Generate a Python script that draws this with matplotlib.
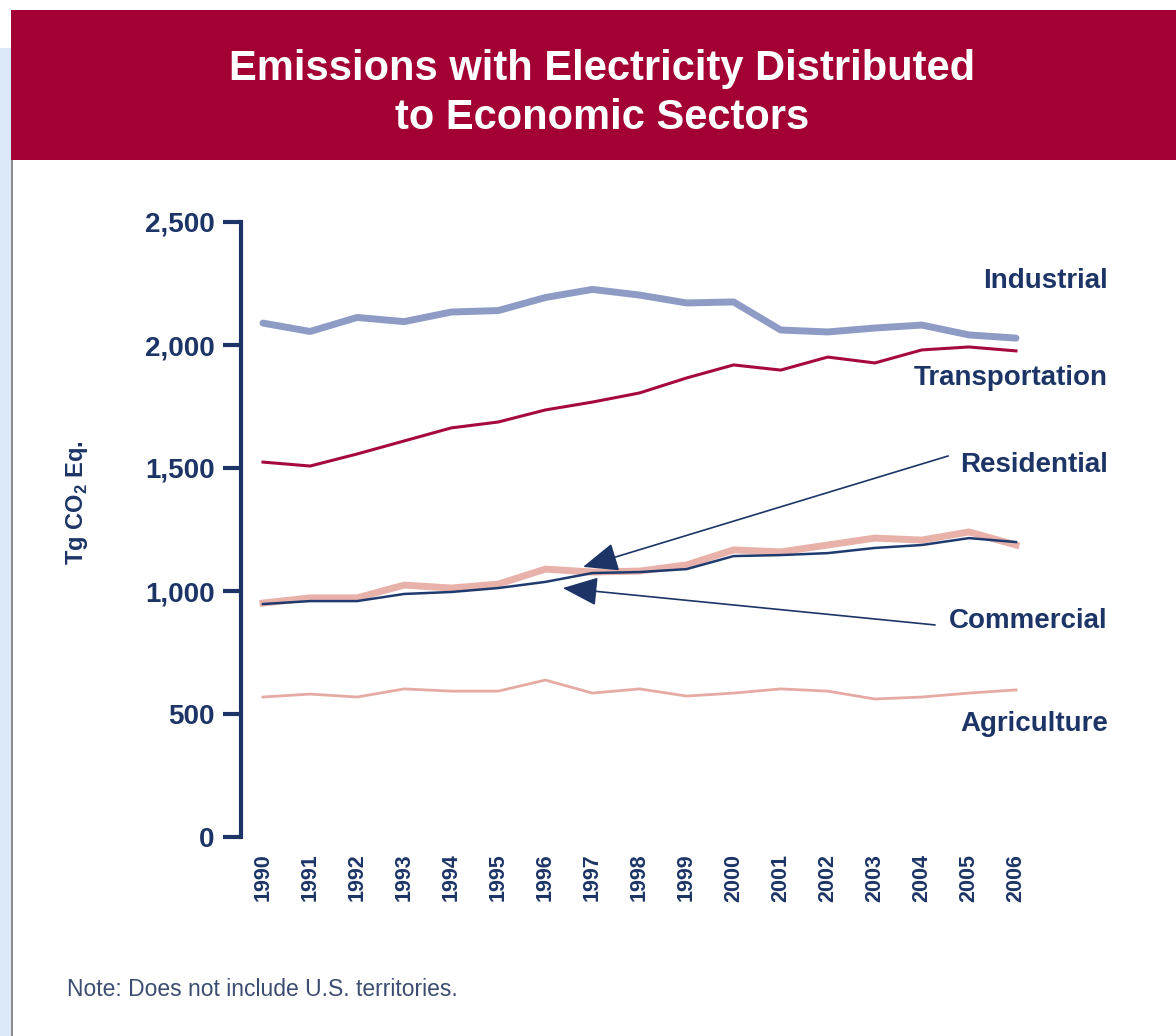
import matplotlib
matplotlib.use('Agg')
import matplotlib.pyplot as plt
from matplotlib.patches import Rectangle

years = list(range(1990, 2007))
industrial = [2089, 2055, 2112, 2095, 2134, 2140, 2193, 2226, 2203, 2171, 2175, 2061, 2053, 2069, 2081, 2041, 2028]
transportation = [1524, 1508, 1557, 1610, 1663, 1687, 1736, 1768, 1805, 1866, 1919, 1898, 1951, 1927, 1980, 1992, 1976]
residential = [951, 972, 972, 1024, 1012, 1028, 1089, 1077, 1081, 1106, 1167, 1159, 1187, 1215, 1207, 1240, 1187]
commercial = [947, 959, 959, 988, 996, 1012, 1037, 1073, 1077, 1089, 1142, 1146, 1154, 1175, 1187, 1215, 1199]
agriculture = [569, 581, 569, 602, 593, 593, 638, 585, 602, 573, 585, 602, 593, 561, 569, 585, 598]
yticks = [0, 500, 1000, 1500, 2000, 2500]
ytick_labels = ['0', '500', '1,000', '1,500', '2,000', '2,500']

navy = '#1c3566'
red = '#a30034'
W, H = 1176, 1036

plt.rcParams['font.family'] = ['Liberation Sans', 'DejaVu Sans']
plt.rcParams['mathtext.fontset'] = 'custom'
plt.rcParams['mathtext.rm'] = 'Liberation Sans:bold'

fig = plt.figure(figsize=(W / 100, H / 100), dpi=100)

def fx(px):
    return px / W

def fy(py):
    return 1 - py / H

# page decorations
fig.patches.append(Rectangle((0, 0), fx(11), fy(48), transform=fig.transFigure,
                             facecolor='#dae8f8', edgecolor='none', zorder=0))
fig.patches.append(Rectangle((fx(11), 0), fx(2), fy(160), transform=fig.transFigure,
                             facecolor='#8c8c8c', edgecolor='none', zorder=0))
fig.patches.append(Rectangle((fx(11), fy(160)), 1 - fx(11), fy(10) - fy(160),
                             transform=fig.transFigure, facecolor=red, edgecolor='none', zorder=0))
fig.text(fx(602), fy(80), 'Emissions with Electricity Distributed', color='white',
         fontsize=30, fontweight='bold', ha='center', va='baseline')
fig.text(fx(602), fy(129), 'to Economic Sectors', color='white',
         fontsize=30, fontweight='bold', ha='center', va='baseline')

ax_left, ax_right, ax_top, ax_bot = 241, 1130, 222, 837
ax = fig.add_axes([fx(ax_left), fy(ax_bot), fx(ax_right - ax_left), fy(ax_top) - fy(ax_bot)])
step = (1016 - 263) / 16
ax.set_xlim(1990 - (263 - ax_left) / step, 1990 + (ax_right - 263) / step)
ax.set_ylim(0, 2500)

ax.plot(years, industrial, color='#8e9bc5', lw=5, solid_capstyle='round', zorder=3)
ax.plot(years, transportation, color='#a6093d', lw=2.2, zorder=3)
ax.plot(years, residential, color='#e8b1a9', lw=5, zorder=2)
ax.plot(years, commercial, color='#1e3a6e', lw=1.8, zorder=4)
ax.plot(years, agriculture, color='#e6aaa5', lw=2, zorder=3)

for s in ['top', 'right', 'bottom']:
    ax.spines[s].set_visible(False)
ax.spines['left'].set_color(navy)
ax.spines['left'].set_linewidth(3)
ax.spines['left'].set_bounds(0, 2500)

ax.set_yticks(yticks)
ax.set_yticklabels(ytick_labels)
ax.tick_params(axis='y', length=13, width=3, color=navy, pad=6,
               labelsize=20, labelcolor=navy)
for t in ax.get_yticklabels():
    t.set_fontweight('bold')
ax.set_xticks(years)
ax.set_xticklabels([str(y) for y in years], rotation=90)
ax.tick_params(axis='x', length=0, pad=12, labelsize=15.5, labelcolor=navy)
for t in ax.get_xticklabels():
    t.set_fontweight('bold')

fig.text(fx(77), fy(503), 'Tg CO$_2$ Eq.', rotation=90, color=navy, fontsize=17,
         fontweight='bold', ha='center', va='center')

labels = [('Industrial', 288), ('Transportation', 385), ('Residential', 472),
          ('Commercial', 628), ('Agriculture', 731)]
for name, base in labels:
    fig.text(fx(1108), fy(base), name, color=navy, fontsize=20, fontweight='bold',
             ha='right', va='baseline')

arrow = dict(arrowstyle='-|>,head_length=1.1,head_width=0.45', color=navy, lw=1.2,
             mutation_scale=20, shrinkA=0, shrinkB=0)
ax.annotate('', xy=(1996.8, 1098), xytext=(2004.56, 1549), arrowprops=arrow, zorder=6)
ax.annotate('', xy=(1996.37, 1012), xytext=(2004.28, 862), arrowprops=arrow, zorder=6)

fig.text(fx(67), fy(990), 'Note: Does not include U.S. territories.', color='#3b4d70',
         fontsize=16.5, ha='left', va='center')

fig.savefig('out.png', dpi=100)
